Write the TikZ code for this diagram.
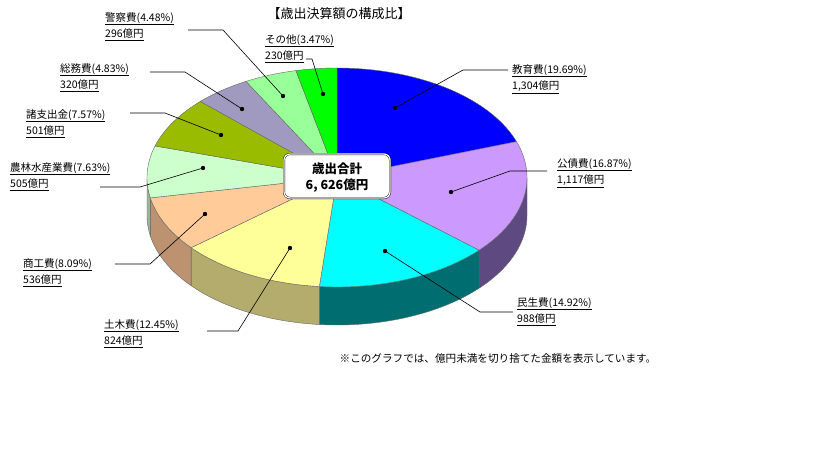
\documentclass[tikz,border=0pt]{standalone}
\usepackage{fontspec}
\setmainfont{Noto Sans CJK JP}
\definecolor{cKyo}{HTML}{0000FF}
\definecolor{cKou}{HTML}{CC99FF}
\definecolor{cMin}{HTML}{00FFFF}
\definecolor{cDob}{HTML}{FFFF99}
\definecolor{cSho}{HTML}{FFCC99}
\definecolor{cNou}{HTML}{CCFFCC}
\definecolor{cShi}{HTML}{99BB00}
\definecolor{cSom}{HTML}{A099C0}
\definecolor{cKei}{HTML}{99FF99}
\definecolor{cSon}{HTML}{00FF00}
\definecolor{sKou}{HTML}{5E4A80}
\definecolor{sMin}{HTML}{006E70}
\definecolor{sDob}{HTML}{B4AC6C}
\definecolor{sSho}{HTML}{BC9270}
\definecolor{sNou}{HTML}{9CB49C}
\begin{document}
\begin{tikzpicture}[x=1pt,y=-1pt,
  lbl/.style={anchor=north west,inner sep=0pt,align=left,font=\fontsize{10.5}{16.5}\selectfont},
  lead/.style={draw=black,line width=0.6pt},
  edge/.style={draw=black!60,line width=0.4pt}]
\useasboundingbox (0,0) rectangle (819,460);
\fill[white] (0,0) rectangle (819,460);
\def\cx{337}\def\cy{177.5}\def\rx{190}\def\ry{109.5}\def\dp{38}
\newcommand\topslice[3]{%
  \fill[#3] (\cx,\cy) -- plot[domain=#1:#2,samples=60] ({\cx+\rx*sin(\x)},{\cy-\ry*cos(\x)}) -- cycle;
  \draw[edge] (\cx,\cy) -- plot[domain=#1:#2,samples=60] ({\cx+\rx*sin(\x)},{\cy-\ry*cos(\x)}) -- cycle;}
\newcommand\sideslice[3]{%
  \fill[#3] plot[domain=#1:#2,samples=60] ({\cx+\rx*sin(\x)},{\cy-\ry*cos(\x)}) -- plot[domain=#2:#1,samples=60] ({\cx+\rx*sin(\x)},{\cy+\dp-\ry*cos(\x)}) -- cycle;
  \draw[edge] plot[domain=#1:#2,samples=60] ({\cx+\rx*sin(\x)},{\cy-\ry*cos(\x)}) -- plot[domain=#2:#1,samples=60] ({\cx+\rx*sin(\x)},{\cy+\dp-\ry*cos(\x)}) -- cycle;}
% sides
\sideslice{90}{131.62}{sKou}
\sideslice{131.62}{185.33}{sMin}
\sideslice{185.33}{230.15}{sDob}
\sideslice{230.15}{259.28}{sSho}
\sideslice{259.28}{270}{sNou}
% tops
\topslice{0}{70.88}{cKyo}
\topslice{70.88}{131.62}{cKou}
\topslice{131.62}{185.33}{cMin}
\topslice{185.33}{230.15}{cDob}
\topslice{230.15}{259.28}{cSho}
\topslice{259.28}{286.75}{cNou}
\topslice{286.75}{314.0}{cShi}
\topslice{314.0}{331.39}{cSom}
\topslice{331.39}{347.52}{cKei}
\topslice{347.52}{360}{cSon}
% title and note
\node[inner sep=0pt,font=\fontsize{13}{15}\selectfont] (title) at (339,13) {【歳出決算額の構成比】};
\node[inner sep=0pt,font=\fontsize{10.6}{12}\selectfont] (note) at (498,358) {※このグラフでは、億円未満を切り捨てた金額を表示しています。};
% centre box
\node[draw=black,double=white,double distance=1.2pt,rounded corners=6pt,fill=white,minimum width=106pt,minimum height=44pt,align=center,inner sep=2pt,font=\bfseries\fontsize{12.5}{16}\selectfont] (total) at (337,176) {歳出合計\\6, 626億円};
% labels
\node[lbl] (kyo) at (512,64) {\underline{教育費(19.69\%)}\\\underline{1,304億円}};
\node[lbl] (kou) at (557,158) {\underline{公債費(16.87\%)}\\\underline{1,117億円}};
\node[lbl] (min) at (517,297) {\underline{民生費(14.92\%)}\\\underline{988億円}};
\node[lbl] (dob) at (104,319) {\underline{土木費(12.45\%)}\\\underline{824億円}};
\node[lbl] (sho) at (23,258) {\underline{商工費(8.09\%)}\\\underline{536億円}};
\node[lbl] (nou) at (10,162) {\underline{農林水産業費(7.63\%)}\\\underline{505億円}};
\node[lbl] (shi) at (26,109) {\underline{諸支出金(7.57\%)}\\\underline{501億円}};
\node[lbl] (som) at (60,63) {\underline{総務費(4.83\%)}\\\underline{320億円}};
\node[lbl] (kei) at (105,12) {\underline{警察費(4.48\%)}\\\underline{296億円}};
\node[lbl] (son) at (265,34) {\underline{その他(3.47\%)}\\\underline{230億円}};
% leader coordinates
\coordinate (dkyo) at (395,108); \coordinate (bkyo) at (463,70); \coordinate (ekyo) at (508,70);
\coordinate (dkou) at (451,192); \coordinate (bkou) at (510,171); \coordinate (ekou) at (547,171);
\coordinate (dmin) at (385,251); \coordinate (bmin) at (480,312); \coordinate (emin) at (513,312);
\coordinate (ddob) at (290,248); \coordinate (bdob) at (238,331); \coordinate (edob) at (207,331);
\coordinate (dsho) at (205,214); \coordinate (bsho) at (150,264); \coordinate (esho) at (115,264);
\coordinate (dnou) at (203,168); \coordinate (bnou) at (140,187); \coordinate (enou) at (100,187);
\coordinate (dshi) at (221,135); \coordinate (bshi) at (165,113); \coordinate (eshi) at (130,113);
\coordinate (dsom) at (242,109); \coordinate (bsom) at (185,72); \coordinate (esom) at (150,72);
\coordinate (dkei) at (283,96); \coordinate (bkei) at (223,30); \coordinate (ekei) at (188,30);
\coordinate (dson) at (323,94); \coordinate (bson) at (312,59); \coordinate (eson) at (306,59);
\foreach \n in {kyo,kou,min,dob,sho,nou,shi,som,kei,son}{
  \draw[lead] (d\n) -- (b\n) -- (e\n);
  \fill (d\n) circle (2.2);
}
\end{tikzpicture}
\end{document}
